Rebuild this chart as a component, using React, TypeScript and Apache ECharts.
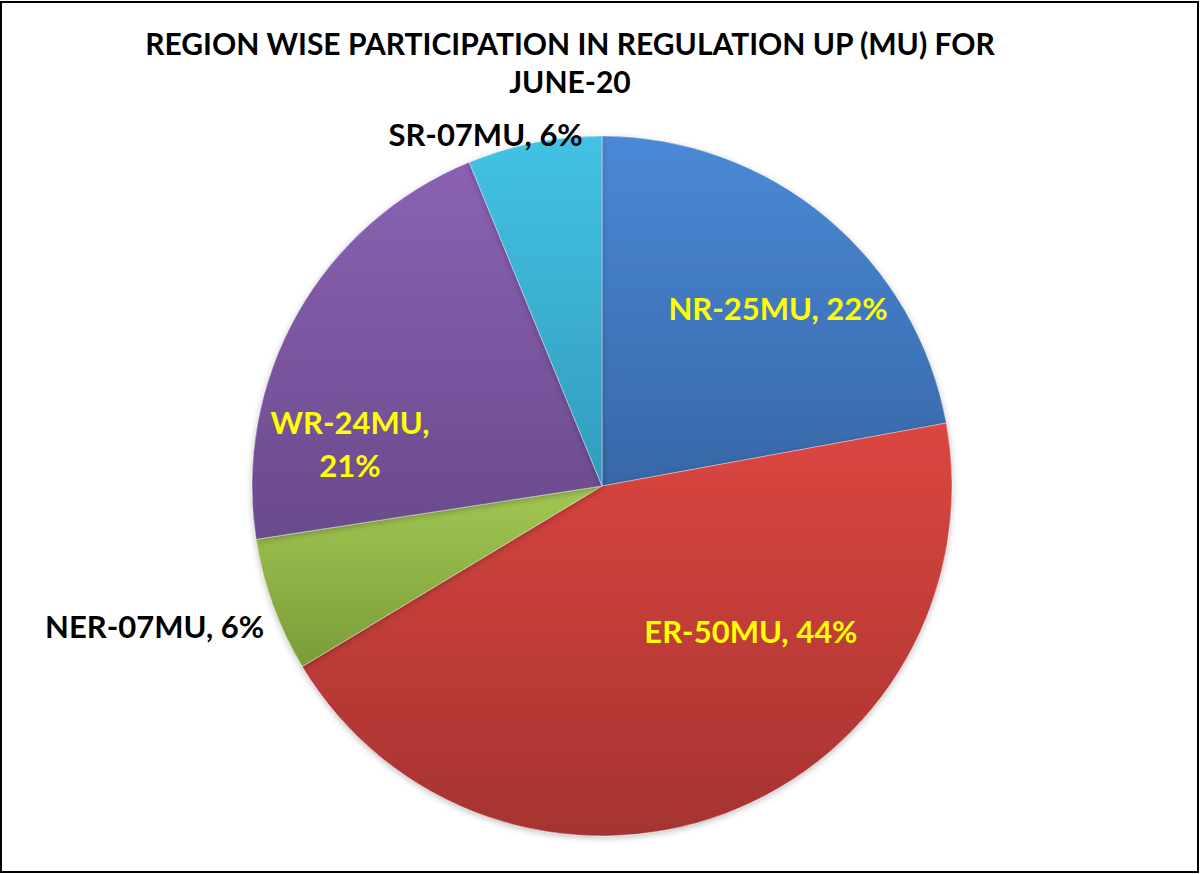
import React, { useEffect, useRef } from "react";
import * as echarts from "echarts";

const titleLines = ["REGION WISE PARTICIPATION IN REGULATION UP (MU) FOR", "JUNE-20"];
const regions = ["NR", "ER", "NER", "WR", "SR"];
const valuesMU = [25, 50, 7, 24, 7];
const percentLabels = ["22%", "44%", "6%", "21%", "6%"];
const muLabels = ["25MU", "50MU", "07MU", "24MU", "07MU"];

const topColors = ["#4b89d6", "#dc4640", "#a2c853", "#8a62b3", "#43c2e4"];
const bottomColors = ["#3767a8", "#a53331", "#7a9c38", "#6a4a8b", "#329cbc"];
const labelColors = ["#ffff00", "#ffff00", "#000000", "#ffff00", "#000000"];
const labelOffsets: [number, number][] = [[62, -41], [86, -22], [-280, 79], [-97, 45], [-82, -177]];
const labelBreak = [false, false, false, true, false];

export default function App() {
  const ref = useRef<HTMLDivElement>(null);
  useEffect(() => {
    if (!ref.current) return;
    const chart = echarts.init(ref.current, null, { renderer: "svg" });
    const data = regions.map((r, i) => ({
      name: r,
      value: valuesMU[i],
      itemStyle: {
        color: new echarts.graphic.LinearGradient(0, 0, 0, 1, [
          { offset: 0, color: topColors[i] },
          { offset: 1, color: bottomColors[i] },
        ]),
      },
      label: {
        color: labelColors[i],
        offset: labelOffsets[i],
        formatter: `${r}-${muLabels[i]},${labelBreak[i] ? "\n" : " "}${percentLabels[i]}`,
      },
    }));
    chart.setOption({
      animation: false,
      backgroundColor: "#ffffff",
      title: {
        text: titleLines.join("\n"),
        left: 565,
        top: 19,
        textAlign: "center",
        textStyle: {
          fontFamily: "Lato",
          fontWeight: "bold",
          fontSize: 30,
          lineHeight: 38,
          color: "#000",
        },
      },
      graphic: [
        {
          type: "rect",
          shape: { x: 1, y: 2, width: 1197, height: 870 },
          style: { fill: "none", stroke: "#000", lineWidth: 2 },
          silent: true,
        },
      ],
      series: [
        {
          type: "pie",
          center: [602, 486],
          radius: [0, 350],
          startAngle: 90,
          clockwise: true,
          data,
          itemStyle: {
            borderColor: "rgba(255,255,255,0.35)",
            borderWidth: 1,
            shadowBlur: 6,
            shadowColor: "rgba(0,0,0,0.25)",
            shadowOffsetY: 2,
          },
          label: {
            show: true,
            position: "inside",
            fontFamily: "Lato",
            fontWeight: "bold",
            fontSize: 31,
            lineHeight: 43,
            align: "center",
          },
          labelLine: { show: false },
          emphasis: { disabled: true },
        },
      ],
    });
    return () => chart.dispose();
  }, []);
  return (
    <div
      ref={ref}
      style={{ position: "fixed", left: 0, top: 0, width: 1200, height: 874 }}
    />
  );
}
